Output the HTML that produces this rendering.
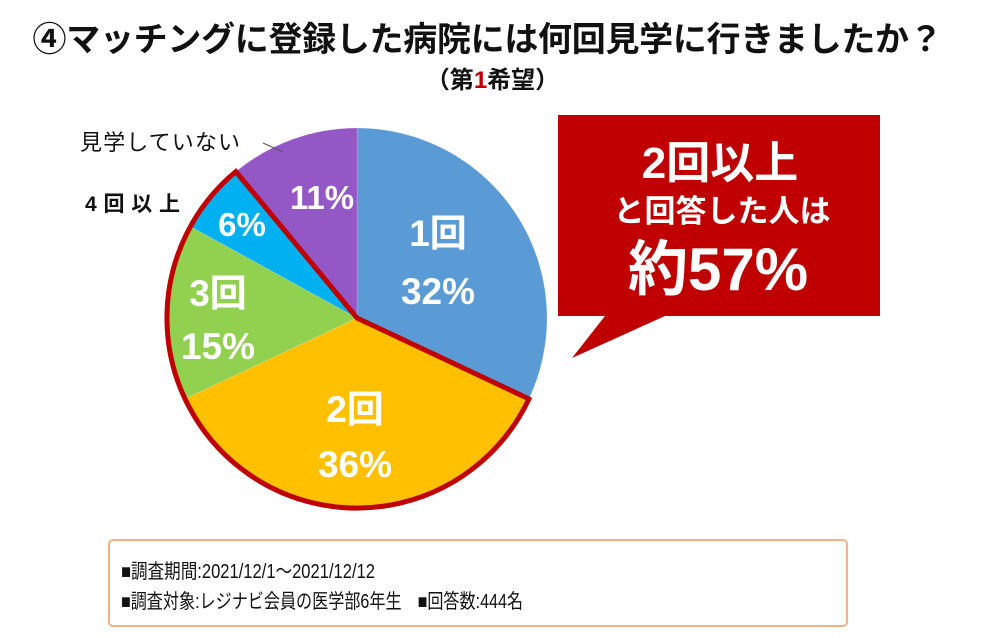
<!DOCTYPE html>
<html><head><meta charset="utf-8"><style>
body{margin:0;width:1000px;height:638px;background:#fff;overflow:hidden;font-family:"Liberation Sans","Noto Sans CJK JP",sans-serif;position:relative}
.t{position:absolute;white-space:nowrap}
</style></head><body>
<div class="t" style="left:0;width:975px;text-align:center;top:12px;font-size:34px;font-weight:bold;color:#111;letter-spacing:-0.3px">④マッチングに登録した病院には何回見学に行きましたか？</div>
<div class="t" style="left:0;width:985px;text-align:center;top:60px;font-size:24px;font-weight:bold;color:#111">（第<span style="color:#c00000">1</span>希望）</div>
<svg width="1000" height="638" style="position:absolute;left:0;top:0" font-family="Liberation Sans,Noto Sans CJK JP,sans-serif">
<g stroke="#fff" stroke-width="0.5" stroke-opacity="0.3">
<path d="M357,318 L357,128 A190,190 0 0 1 528.9,398.9 Z" fill="#5b9bd5"/>
<path d="M357,318 L528.9,398.9 A190,190 0 0 1 185.1,398.9 Z" fill="#ffc000"/>
<path d="M357,318 L185.1,398.9 A190,190 0 0 1 190.5,226.5 Z" fill="#92d050"/>
<path d="M357,318 L190.5,226.5 A190,190 0 0 1 235.9,171.6 Z" fill="#00b0f0"/>
<path d="M357,318 L235.9,171.6 A190,190 0 0 1 357,128 Z" fill="#9457c6"/>
</g>
<path d="M357,318 L528.9,398.9 A190,190 0 1 1 235.9,171.6 Z" fill="none" stroke="#c00000" stroke-width="5" stroke-linejoin="miter"/>
<line x1="263" y1="143" x2="283" y2="152" stroke="#555" stroke-width="1"/>
<g fill="#fff" font-weight="bold" font-size="37" text-anchor="middle">
<text x="438" y="246">1回</text><text x="438" y="304">32%</text>
<text x="355" y="422">2回</text><text x="355" y="477">36%</text>
<text x="218" y="306">3回</text><text x="218" y="359">15%</text>
<text x="242" y="236" font-size="33">6%</text>
<text x="322" y="209" font-size="33">11%</text>
</g>
<text x="80" y="150" font-size="22" fill="#111" textLength="160">見学していない</text>
<text x="85" y="211" font-size="21" fill="#111" font-weight="bold" textLength="95">4回以上</text>
<path d="M558,115 H880 V316 H665 L572,358 L605,316 H558 Z" fill="#c00000"/>
<g fill="#fff" font-weight="bold" text-anchor="middle">
<text x="720" y="178" font-size="44">2回以上</text>
<text x="722" y="222" font-size="31">と回答した人は</text>
<text x="718" y="290" font-size="60">約57%</text>
</g>
<rect x="109" y="540" width="738" height="86" rx="4" fill="#fff" stroke="#f4b183" stroke-width="2"/>
<g font-size="20" fill="#111">
<text x="121" y="578" textLength="254" lengthAdjust="spacingAndGlyphs">■調査期間:2021/12/1〜2021/12/12</text>
<text x="121" y="608" textLength="402" lengthAdjust="spacingAndGlyphs">■調査対象:レジナビ会員の医学部6年生　■回答数:444名</text>
</g>
</svg>
</body></html>
